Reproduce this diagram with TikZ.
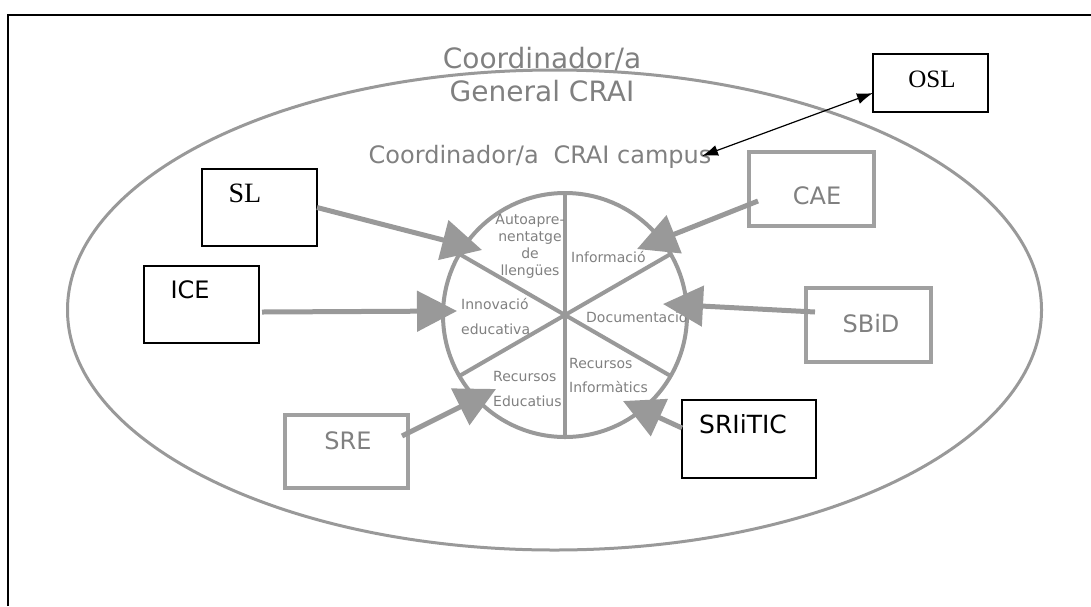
\documentclass[tikz,border=0pt]{standalone}
\usepackage{fontspec}
\setmainfont{DejaVu Sans}
\newfontfamily\timesfont{Liberation Serif}
\usetikzlibrary{arrows.meta,calc}
\definecolor{lg}{HTML}{999999}
\definecolor{tg}{HTML}{808080}
\definecolor{bg}{HTML}{A0A0A0}
\tikzset{
  graybox/.style={draw=bg, line width=3.5pt, inner sep=0pt, outer sep=0pt},
  blackbox/.style={draw=black, line width=1.3pt, inner sep=0pt, outer sep=0pt},
  bigarrow/.style={draw=lg, line width=5pt, -{Triangle[length=40pt,width=40pt]}},
  wheellbl/.style={text=tg, font=\fontsize{14}{17}\selectfont, inner sep=0pt},
  boxtxt/.style={inner sep=0pt, font=\fontsize{24}{28}\selectfont},
  sertxt/.style={inner sep=0pt, font=\timesfont\fontsize{25}{28}\selectfont},
}
\begin{document}
\begin{tikzpicture}[x=1pt,y=-1pt]
\useasboundingbox (0,0) rectangle (1091,606);
% frame
\draw[black, line width=1.3pt] (8,606) -- (8,15) -- (1091,15);
% outer ellipse
\draw[lg, line width=3pt] (554.5,310) ellipse [x radius=487, y radius=240];
% titles
\node[text=tg, align=center, inner sep=0pt, font=\fontsize{28}{33}\selectfont] (gen) at (542,75) {Coordinador/a\\General CRAI};
\node[text=tg, inner sep=0pt, font=\fontsize{24}{28}\selectfont] (campus) at (540,157) {Coordinador/a\hspace{0.3em} CRAI campus};
% wheel
\node[circle, draw=lg, line width=4pt, minimum size=244pt, inner sep=0pt, outer sep=0pt] (wheel) at (565,315) {};
\draw[lg, line width=4pt] (wheel.90) -- (wheel.270);
\draw[lg, line width=4pt] (wheel.30) -- (wheel.210);
\draw[lg, line width=4pt] (wheel.150) -- (wheel.330);
% wheel labels
\node[wheellbl, align=center] (auto) at (530,246.5) {Autoapre-\\nentatge\\de\\llengües};
\node[wheellbl, anchor=west] (info) at (571,257) {Informació};
\node[wheellbl, anchor=west, align=left, font=\fontsize{14}{25}\selectfont] (innov) at (461,316.5) {Innovació\\educativa};
\node[wheellbl, anchor=west] (docu) at (586,317) {Documentacio};
\node[wheellbl, anchor=west, align=left, font=\fontsize{14}{24}\selectfont] (recinf) at (569,375) {Recursos\\Informàtics};
\node[wheellbl, anchor=west, align=left, font=\fontsize{14}{25}\selectfont] (recedu) at (493,388.5) {Recursos\\Educatius};
% boxes
\node[blackbox, minimum width=115pt, minimum height=77pt] (SL) at (259.5,207.5) {};
\node[sertxt, font=\timesfont\fontsize{28}{30}\selectfont] (SLt) at (245,193) {SL};
\node[blackbox, minimum width=115pt, minimum height=77pt] (ICE) at (201.5,304.5) {};
\node[boxtxt] (ICEt) at (190,290) {ICE};
\node[graybox, minimum width=123pt, minimum height=73pt] (SRE) at (346.5,451.5) {};
\node[boxtxt, text=tg] (SREt) at (348,441) {SRE};
\node[graybox, minimum width=125pt, minimum height=74pt] (CAE) at (811.5,189) {};
\node[boxtxt, text=tg] (CAEt) at (817,196) {CAE};
\node[graybox, minimum width=125pt, minimum height=74pt] (SBiD) at (868.5,325) {};
\node[boxtxt, text=tg] (SBiDt) at (871,324) {SBiD};
\node[blackbox, minimum width=134pt, minimum height=78pt] (SRI) at (749,439) {};
\node[boxtxt, font=\fontsize{25}{28}\selectfont] (SRIt) at (743,424) {SRIiTIC};
\node[blackbox, minimum width=115pt, minimum height=58pt] (OSL) at (930.5,83) {};
\node[sertxt] (OSLt) at (932,79) {OSL};
% arrow tips
\coordinate (tSL) at (482,250);
\coordinate (tICE) at (457,311);
\coordinate (tSRE) at (496,389);
\coordinate (tCAE) at (637,249);
\coordinate (tSBiD) at (663,304);
\coordinate (tSRI) at (623,401);
\coordinate (campusend) at (702,156);
% arrows
\draw[bigarrow] (SL.east) -- (tSL);
\draw[bigarrow] ([xshift=3pt,yshift=-7.5pt]ICE.east) -- (tICE);
\draw[bigarrow] ([xshift=-6pt,yshift=15.5pt]SRE.east) -- (tSRE);
\draw[bigarrow] ([xshift=9pt,yshift=-12pt]CAE.west) -- (tCAE);
\draw[bigarrow] ([xshift=9pt,yshift=13pt]SBiD.west) -- (tSBiD);
\draw[bigarrow] ([yshift=11pt]SRI.west) -- (tSRI);
\draw[black, line width=1.2pt, {Latex[length=16pt,width=11pt]}-{Latex[length=16pt,width=11pt]}] (campusend) -- ([yshift=-10pt]OSL.west);
\end{tikzpicture}
\end{document}
